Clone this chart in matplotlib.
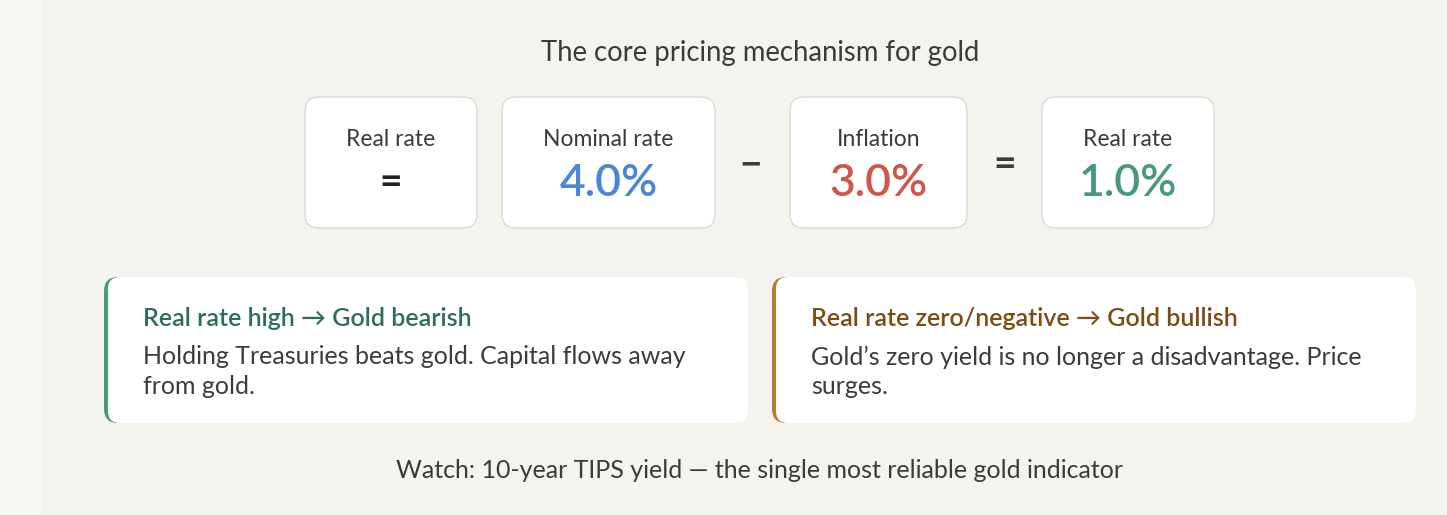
import matplotlib
matplotlib.use("Agg")
import matplotlib.pyplot as plt
from matplotlib.patches import FancyBboxPatch, Rectangle

# text + numbers
title = "The core pricing mechanism for gold"
box_labels = ["Real rate", "Nominal rate", "Inflation", "Real rate"]
box_values = [None, 4.0, 3.0, 1.0]
box_colors = ["#222222", "#4a86d6", "#d0554b", "#489a76"]
operators = ["\u2212", "="]
card_heads = ["Real rate high \u2192 Gold bearish",
              "Real rate zero/negative \u2192 Gold bullish"]
card_bodies = ["Holding Treasuries beats gold. Capital flows away\nfrom gold.",
               "Gold\u2019s zero yield is no longer a disadvantage. Price\nsurges."]
card_colors = ["#2f6e52", "#7c4c16"]
card_edges = ["#4a9a78", "#b87c32"]
footer = "Watch: 10-year TIPS yield \u2014 the single most reliable gold indicator"

plt.rcParams['font.family'] = ['Lato', 'DejaVu Sans']
TXT = "#3b3b38"

W, H = 1447, 515
fig = plt.figure(figsize=(W / 100, H / 100), dpi=100)
ax = fig.add_axes([0, 0, 1, 1])
ax.set_xlim(0, W)
ax.set_ylim(H, 0)
ax.axis("off")
fig.patch.set_facecolor("#f4f3ee")
ax.add_patch(Rectangle((0, 0), 40, H, color="#f9f8f5", zorder=0))

ax.text(760, 53, title, ha="center", va="center", fontsize=19.8, color=TXT)

# formula boxes
box_x = [(305, 477), (502, 715), (790, 967), (1042, 1214)]
for (x0, x1), lab, val, col in zip(box_x, box_labels, box_values, box_colors):
    ax.add_patch(FancyBboxPatch((x0, 97), x1 - x0, 131,
                                boxstyle="round,pad=0,rounding_size=14",
                                fc="white", ec="#dcdbd5", lw=1, zorder=2))
    cx = (x0 + x1) / 2
    ax.text(cx, 139, lab, ha="center", va="center", fontsize=16.5, color=TXT, zorder=3)
    if val is None:
        ax.text(cx, 182, "=", ha="center", va="center", fontsize=28,
                fontweight="bold", color=col, zorder=3)
    else:
        ax.text(cx, 183, f"{val:.1f}%", ha="center", va="center", fontsize=32,
                fontweight="semibold", color=col, zorder=3)

for x, op in zip([751, 1005], operators):
    ax.text(x, 165, op, ha="center", va="center", fontsize=28,
            fontweight="bold", color=TXT)

# cards
card_x = [(104, 748), (772, 1416)]
for (x0, x1), hd, bd, hc, ec in zip(card_x, card_heads, card_bodies, card_colors, card_edges):
    ax.add_patch(FancyBboxPatch((x0, 277), x1 - x0, 146,
                                boxstyle="round,pad=0,rounding_size=14",
                                fc=ec, ec="none", zorder=2))
    ax.add_patch(FancyBboxPatch((x0 + 4, 277), x1 - x0 - 4, 146,
                                boxstyle="round,pad=0,rounding_size=12",
                                fc="white", ec="none", zorder=3))
    ax.text(x0 + 39, 319, hd, ha="left", va="center", fontsize=18,
            fontweight="semibold", color=hc, zorder=4)
    for i, line in enumerate(bd.split("\n")):
        ax.text(x0 + 39, 357 + 30 * i, line, ha="left", va="center", fontsize=18,
                color=TXT, zorder=4)

ax.text(760, 471, footer, ha="center", va="center", fontsize=18, color=TXT)

fig.savefig("out.png", dpi=100, facecolor=fig.get_facecolor())
